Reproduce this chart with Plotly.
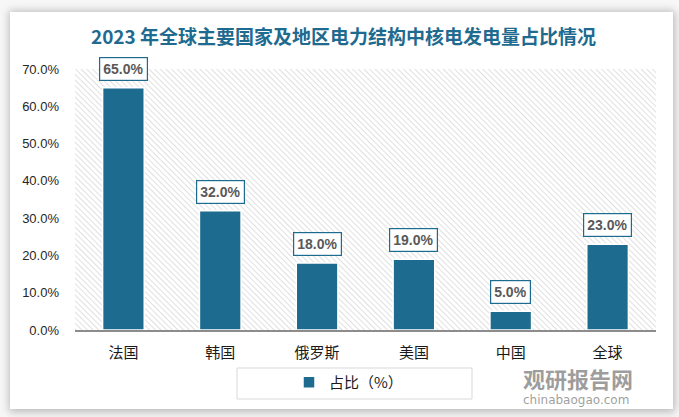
import base64
import plotly.graph_objects as go

categories = ["法国", "韩国", "俄罗斯", "美国", "中国", "全球"]
shares = [0.65, 0.32, 0.18, 0.19, 0.05, 0.23]
tick_vals = [0, 0.1, 0.2, 0.3, 0.4, 0.5, 0.6, 0.7]
tick_text = ["0.0%", "10.0%", "20.0%", "30.0%", "40.0%", "50.0%", "60.0%", "70.0%"]
series_name = "占比（%）"
title_text = "2023 年全球主要国家及地区电力结构中核电发电量占比情况"

BAR = "#1d6b8f"
FW, FH = 679, 417

# plot area in pixels
L, R, T, B = 75, 656, 69, 330
W, H = R - L, B - T


def px_x(p):
    return (p - L) / W


def px_y(p):
    return (B - p) / H


svg = (
    f"<svg xmlns='http://www.w3.org/2000/svg' width='{FW}' height='{FH}' viewBox='0 0 {FW} {FH}'>"
    "<defs>"
    "<filter id='s' x='-10%' y='-10%' width='120%' height='120%'><feGaussianBlur stdDeviation='4'/></filter>"
    "<pattern id='p' width='4' height='4' patternUnits='userSpaceOnUse' patternTransform='rotate(-45)'>"
    "<line x1='0' y1='0' x2='0' y2='4' stroke='#d2d2d2' stroke-width='1.4'/>"
    "</pattern></defs>"
    f"<rect width='{FW}' height='{FH}' fill='#f7f7f7'/>"
    "<rect x='9' y='11' width='666' height='401' fill='#b8b8b8' filter='url(#s)'/>"
    "<rect x='10' y='12' width='663' height='397' fill='white'/>"
    f"<rect x='{L}' y='{T}' width='{W}' height='{H}' fill='url(#p)'/>"
    "</svg>"
)
svg_uri = "data:image/svg+xml;base64," + base64.b64encode(svg.encode()).decode()

fig = go.Figure()
fig.add_trace(go.Bar(
    x=categories, y=shares, name=series_name,
    marker=dict(color=BAR, line=dict(color="white", width=1.5)),
    width=0.43, showlegend=True, hoverinfo="skip",
))

annotations = []
for c, v in zip(categories, shares):
    annotations.append(dict(
        x=c, y=v, xref="x", yref="y", text=f"<b>{v*100:.1f}%</b>",
        showarrow=False, yanchor="bottom", yshift=7,
        font=dict(family="Liberation Sans, Arial", size=14, color="#595959"),
        bgcolor="white", bordercolor=BAR, borderwidth=1.2, borderpad=3,
    ))

# watermark
annotations.append(dict(
    x=px_x(578), y=px_y(378), xref="paper", yref="paper", showarrow=False,
    xanchor="center", yanchor="middle", borderpad=0,
    text="<b>观研报告网</b>", font=dict(family="Noto Sans CJK SC", size=22, color="rgba(125,125,125,0.75)"),
))
annotations.append(dict(
    x=px_x(576), y=px_y(400), xref="paper", yref="paper", showarrow=False,
    xanchor="center", yanchor="middle", borderpad=0,
    text="chinabaogao.com", font=dict(family="DejaVu Sans", size=12, color="rgba(125,125,125,0.75)"),
))

shapes = [
    # legend border
    dict(type="rect", xref="paper", yref="paper", x0=px_x(237), x1=px_x(472), y0=px_y(368), y1=px_y(399),
         fillcolor="rgba(0,0,0,0)", line=dict(color="#d9d9d9", width=1)),
]

fig.update_layout(
    width=FW, height=FH,
    margin=dict(l=L, r=FW - R, t=T, b=FH - B, pad=0),
    paper_bgcolor="white", plot_bgcolor="rgba(0,0,0,0)",
    title=dict(text=f"<b>{title_text}</b>", x=343.5 / FW, xanchor="center", y=1 - 37 / FH, yanchor="middle",
               font=dict(family="Noto Sans CJK SC", size=19, color="#1f6a8f")),
    xaxis=dict(showgrid=False, showline=True, linecolor="#8c8c8c", linewidth=1.5, ticks="",
               ticklabelstandoff=8,
               tickfont=dict(family="Noto Sans CJK SC", size=15, color="#1a1a1a"), fixedrange=True),
    yaxis=dict(range=[0, 0.7], tickvals=tick_vals, ticktext=tick_text, showgrid=False, zeroline=False,
               showline=False, ticks="", ticklabelstandoff=15, fixedrange=True,
               tickfont=dict(family="Liberation Sans, Arial", size=13, color="#262626")),
    legend=dict(orientation="h", x=px_x(289), xanchor="left", y=px_y(366), yanchor="top",
                font=dict(family="Noto Sans CJK SC", size=15, color="#1a1a1a"), bgcolor="rgba(0,0,0,0)",
                itemclick=False),
    annotations=annotations,
    shapes=shapes,
    images=[dict(source=svg_uri, xref="paper", yref="paper", x=px_x(0), y=px_y(0),
                 sizex=FW / W, sizey=FH / H, xanchor="left", yanchor="top", sizing="stretch", layer="below")],
)

fig.write_html("out.html", config={"displayModeBar": False},
               post_script="document.body.style.margin='0';")
